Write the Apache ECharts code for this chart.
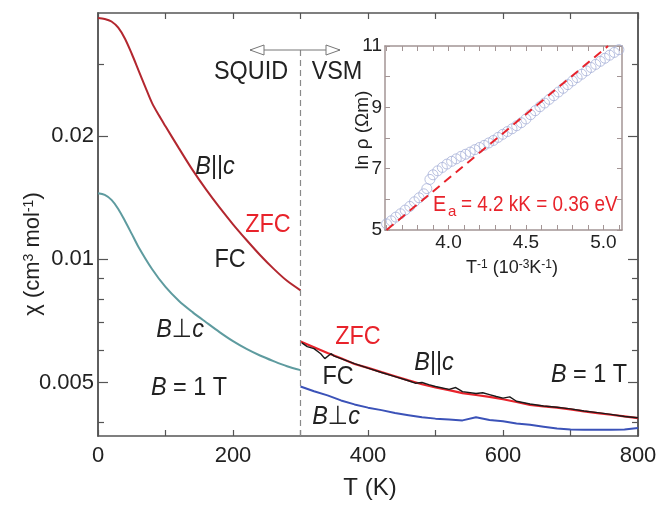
<!DOCTYPE html>
<html>
<head>
<meta charset="utf-8">
<script src="https://cdn.jsdelivr.net/npm/echarts@6.0.0/dist/echarts.min.js"></script>
<style>
    html, body { margin: 0; padding: 0; background: #fff; }
    #chart { width: 660px; height: 505px; }
</style>
</head>
<body>
<div id="chart"></div>
<script>
// --- SQUID range (0-300 K), chi in cm3/mol
var squidT = [0, 10, 20, 30, 40, 50, 60, 70, 80, 90, 100, 120, 140, 160, 180, 200, 220, 240, 260, 280, 300];
var chiParSquid = [0.03889, 0.03869, 0.03813, 0.03682, 0.03461, 0.03180, 0.02898, 0.02641, 0.02413, 0.02252, 0.02114,
    0.01867, 0.01654, 0.01482, 0.01339, 0.01218, 0.01115, 0.01025, 0.00949, 0.00886, 0.00840];
var squidTPerp = [0, 10, 20, 30, 40, 50, 60, 80, 100, 120, 140, 160, 180, 200, 220, 240, 260, 280, 300];
var chiPerpSquid = [0.01450, 0.01437, 0.01397, 0.01328, 0.01241, 0.01154, 0.01072, 0.00947, 0.00856, 0.00791,
    0.00743, 0.00702, 0.00664, 0.00631, 0.00604, 0.00582, 0.00564, 0.00548, 0.00536];

// --- VSM range (300-800 K)
var vsmT = [300, 320, 340, 360, 380, 400, 420, 440, 460, 480, 500, 520, 540, 560, 580, 600, 620, 640, 660, 680,
    700, 720, 740, 760, 780, 800];
var chiParZfc = [0.00630, 0.00610, 0.00590, 0.00573, 0.00555, 0.00543, 0.00530, 0.00518, 0.00506, 0.00495, 0.00486,
    0.00479, 0.00471, 0.00466, 0.00461, 0.00455, 0.00448, 0.00441, 0.00437, 0.00434, 0.00430, 0.00425, 0.00421,
    0.00417, 0.00413, 0.00409];
var fcT = [302, 310, 320, 330, 336, 345, 350, 360, 380, 400, 420, 440, 460, 470, 480, 490, 500, 520, 530, 540, 560,
    570, 580, 590, 600, 610, 620, 640, 660, 680, 700, 720, 740, 760, 780, 800];
var chiParFc = [0.00625, 0.00612, 0.00605, 0.00588, 0.00572, 0.00588, 0.00580, 0.00572, 0.00556, 0.00542, 0.00529,
    0.00517, 0.00505, 0.00498, 0.00500, 0.00494, 0.00489, 0.00481, 0.00486, 0.00475, 0.00470, 0.00472, 0.00467,
    0.00462, 0.00458, 0.00461, 0.00450, 0.00443, 0.00438, 0.00435, 0.00431, 0.00426, 0.00422, 0.00418, 0.00413,
    0.00410];
var chiPerpVsm = [0.00489, 0.00476, 0.00465, 0.00452, 0.00442, 0.00434, 0.00428, 0.00421, 0.00416, 0.00411, 0.00408,
    0.00406, 0.00404, 0.00411, 0.00405, 0.00402, 0.00397, 0.00394, 0.00390, 0.00386, 0.00384, 0.00383, 0.00383,
    0.00383, 0.00384, 0.00387];

// --- main axis ticks
var chiMajor = [0.005, 0.01, 0.02];
var chiMinor = [0.004, 0.006, 0.007, 0.008, 0.009, 0.03];

// --- inset: ln(rho) vs 1/T (1e-3 / K)
var invT = [3.60, 3.63, 3.66, 3.69, 3.72, 3.75, 3.78, 3.81, 3.84, 3.86, 3.88, 3.90, 3.93, 3.96, 3.99, 4.02, 4.05,
    4.08, 4.11, 4.14, 4.17, 4.20, 4.23, 4.26, 4.29, 4.32, 4.35, 4.38, 4.41, 4.44, 4.47, 4.50, 4.53, 4.56, 4.59,
    4.62, 4.65, 4.68, 4.71, 4.74, 4.77, 4.80, 4.83, 4.86, 4.89, 4.92, 4.95, 4.98, 5.01, 5.04, 5.07, 5.10];
var lnRho = [5.20, 5.30, 5.42, 5.53, 5.65, 5.77, 5.92, 6.05, 6.18, 6.35, 6.65, 6.80, 6.93, 7.04, 7.15, 7.24, 7.32,
    7.40, 7.47, 7.54, 7.62, 7.69, 7.76, 7.84, 7.92, 8.02, 8.12, 8.21, 8.30, 8.40, 8.50, 8.62, 8.76, 8.89, 9.02,
    9.14, 9.26, 9.38, 9.50, 9.62, 9.74, 9.86, 9.97, 10.08, 10.19, 10.30, 10.40, 10.50, 10.60, 10.70, 10.79, 10.88];
var fitX = [3.60, 5.03];
var fitY = [5.0, 11.0];
var invTTicks = [3.6, 3.7, 3.8, 3.9, 4.0, 4.1, 4.2, 4.3, 4.4, 4.5, 4.6, 4.7, 4.8, 4.9, 5.0, 5.1];
var invTLabels = [4.0, 4.5, 5.0];

var FONT = '"Liberation Sans", Arial, "DejaVu Sans", sans-serif';
var lg = function (v) { return Math.log10(v) };
var pairs = function (xs, ys, f) {
    return xs.map(function (x, i) { return [x, f ? f(ys[i]) : ys[i]] });
};

var frame = { color: '#555', width: 1.5 };
var insetFrame = { color: '#a39595', width: 1.5 };

var chiLabel = function (v) { return String(Number(Math.pow(10, v).toPrecision(1))) };

var mainX = function (pos) {
    return {
        type: 'value', gridIndex: 0, position: pos, min: 0, max: 800, interval: 100,
        axisLine: { onZero: false, lineStyle: frame },
        axisTick: { inside: true, length: 6, lineStyle: { color: '#555', width: 1.2 } },
        axisLabel: {
            show: pos === 'bottom', color: '#222', fontSize: 22, fontFamily: FONT, margin: 9,
            formatter: function (v) { return v % 200 === 0 ? String(v) : '' }
        },
        splitLine: { show: false }
    };
};
var mainY = function (pos, ticks, len, labels) {
    return {
        type: 'value', gridIndex: 0, position: pos, min: lg(0.0037), max: lg(0.04),
        axisLine: { onZero: false, lineStyle: frame },
        axisTick: { inside: true, length: len, customValues: ticks.map(lg), lineStyle: { color: '#555', width: 1.2 } },
        axisLabel: labels ? {
            customValues: chiMajor.map(lg), formatter: chiLabel,
            color: '#222', fontSize: 22, fontFamily: FONT, margin: 4
        } : { show: false },
        splitLine: { show: false }
    };
};
var insetX = function (pos) {
    return {
        type: 'value', gridIndex: 1, position: pos, min: 3.59, max: 5.12,
        axisLine: { onZero: false, lineStyle: insetFrame },
        axisTick: { inside: true, length: 5, customValues: invTTicks, lineStyle: { color: '#a39595' } },
        axisLabel: {
            show: pos === 'bottom', customValues: invTLabels, margin: 3,
            formatter: function (v) { return v.toFixed(1) },
            color: '#222', fontSize: 19, fontFamily: FONT
        },
        splitLine: { show: false }
    };
};
var insetY = function (pos) {
    return {
        type: 'value', gridIndex: 1, position: pos, min: 5, max: 11, interval: 1,
        axisLine: { onZero: false, lineStyle: insetFrame },
        axisTick: { inside: true, length: 5, lineStyle: { color: '#a39595' } },
        axisLabel: {
            show: pos === 'left', margin: 3, color: '#222', fontSize: 19, fontFamily: FONT,
            formatter: function (v) { return v % 2 === 1 ? String(v) : '' }
        },
        splitLine: { show: false }
    };
};

// text helper for annotations
var txt = function (x, y, text, size, color, opt) {
    opt = opt || {};
    return {
        type: 'text', x: x, y: y, rotation: opt.rot || 0, scaleX: opt.sx || 1, z: 100,
        style: {
            text: text, fill: color || '#222', fontSize: size, fontFamily: FONT,
            align: opt.align || 'center', verticalAlign: 'middle', rich: opt.rich
        }
    };
};
var richB = function (size) {
    return {
        i: { fontStyle: 'italic', fontSize: size, fontFamily: FONT, fill: '#222' },
        n: { fontSize: size, fontFamily: FONT, fill: '#222' }
    };
};
var supRich = function (size, sub) {
    return {
        a: { fontSize: size, fontFamily: FONT, fill: '#222', verticalAlign: 'bottom' },
        s: { fontSize: sub, fontFamily: FONT, fill: '#222', verticalAlign: 'top' }
    };
};

var S = 26, SX = 0.9;
var graphics = [
    { type: 'line', z: 100, shape: { x1: 250, y1: 50, x2: 340, y2: 50 }, style: { stroke: '#777', lineWidth: 1 } },
    { type: 'polygon', z: 101, shape: { points: [[250, 50], [264, 45], [264, 55]] }, style: { fill: '#fff', stroke: '#777', lineWidth: 1 } },
    { type: 'polygon', z: 101, shape: { points: [[340, 50], [326, 45], [326, 55]] }, style: { fill: '#fff', stroke: '#777', lineWidth: 1 } },
    txt(251, 72, 'SQUID', S, '#222', { sx: SX }),
    txt(337, 72, 'VSM', S, '#222', { sx: SX }),
    txt(215, 167, '{i|B}{n|||}{i|c}', S, '#222', { sx: SX, rich: richB(S) }),
    txt(268, 225, 'ZFC', S, '#e8232b', { sx: SX }),
    txt(230, 260, 'FC', S, '#222', { sx: SX }),
    txt(180, 330, '{i|B}{n|\u22a5}{i|c}', S, '#222', { sx: SX, rich: richB(S) }),
    txt(189, 388, '{i|B}{n| = 1 T}', S, '#222', { sx: SX, rich: richB(S) }),
    txt(358, 337, 'ZFC', S, '#e8232b', { sx: SX }),
    txt(338, 377, 'FC', S, '#222', { sx: SX }),
    txt(434, 363, '{i|B}{n|||}{i|c}', S, '#222', { sx: SX, rich: richB(S) }),
    txt(589, 375, '{i|B}{n| = 1 T}', S, '#222', { sx: SX, rich: richB(S) }),
    txt(336, 417, '{i|B}{n|\u22a5}{i|c}', S, '#222', { sx: SX, rich: richB(S) }),
    txt(370, 488, 'T (K)', 24, '#222'),
    txt(33, 254, '{a|\u03c7 (cm}{s|3}{a| mol}{s|-1}{a|)}', 22, '#222', { rot: Math.PI / 2, rich: supRich(22, 14) }),
    txt(363, 130, 'ln \u03c1 (\u03a9m)', 19, '#222', { rot: Math.PI / 2 }),
    txt(512, 268, '{a|T}{s|-1}{a| (10}{s|-3}{a|K}{s|-1}{a|)}', 18, '#222', { rich: supRich(18, 12) }),
    txt(433, 205, 'E', 22, '#e8232b', { align: 'left', sx: SX }),
    txt(448, 212, 'a', 15, '#e8232b', { align: 'left' }),
    txt(461, 205, '= 4.2 kK = 0.36 eV', 22, '#e8232b', { align: 'left', sx: 0.86 })
];

var chart = echarts.init(document.getElementById('chart'));
chart.setOption({
    animation: false,
    backgroundColor: '#fff',
    grid: [
        { left: 98, top: 13, width: 540, height: 423 },
        { left: 385, top: 46, width: 237, height: 184 }
    ],
    xAxis: [mainX('bottom'), mainX('top'), insetX('bottom'), insetX('top')],
    yAxis: [
        mainY('left', chiMajor, 10, true), mainY('left', chiMinor, 6, false),
        mainY('right', chiMajor, 10, false), mainY('right', chiMinor, 6, false),
        insetY('left'), insetY('right')
    ],
    series: [
        {
            name: 'B||c SQUID', type: 'line', xAxisIndex: 0, yAxisIndex: 0, smooth: 0.3,
            showSymbol: false, data: pairs(squidT, chiParSquid, lg), lineStyle: { color: '#b3272f', width: 2 },
            markLine: {
                silent: true, symbol: 'none', label: { show: false },
                lineStyle: { color: '#8a8a8a', type: [6, 4], width: 1.2 },
                data: [[{ coord: [300, lg(0.0037)] }, { coord: [300, lg(0.0325)] }]]
            }
        },
        {
            name: 'B perp c SQUID', type: 'line', xAxisIndex: 0, yAxisIndex: 0, smooth: 0.3,
            showSymbol: false, data: pairs(squidTPerp, chiPerpSquid, lg), lineStyle: { color: '#5e9b9f', width: 2 }
        },
        {
            name: 'ZFC', type: 'line', xAxisIndex: 0, yAxisIndex: 0, showSymbol: false,
            data: pairs(vsmT, chiParZfc, lg), lineStyle: { color: '#e8232b', width: 2.2 }
        },
        {
            name: 'FC', type: 'line', xAxisIndex: 0, yAxisIndex: 0, showSymbol: false,
            data: pairs(fcT, chiParFc, lg), lineStyle: { color: '#1a1a1a', width: 1.4 }
        },
        {
            name: 'B perp c VSM', type: 'line', xAxisIndex: 0, yAxisIndex: 0, showSymbol: false,
            data: pairs(vsmT, chiPerpVsm, lg), lineStyle: { color: '#3b52b8', width: 2 }
        },
        {
            name: 'ln rho', type: 'scatter', xAxisIndex: 2, yAxisIndex: 4, symbol: 'circle', symbolSize: 10,
            data: pairs(invT, lnRho),
            itemStyle: { color: 'rgba(0,0,0,0)', borderColor: '#a7b2d8', borderWidth: 1 }
        },
        {
            name: 'fit', type: 'line', xAxisIndex: 2, yAxisIndex: 4, showSymbol: false, z: 5,
            data: pairs(fitX, fitY), lineStyle: { color: '#e8232b', width: 2, type: [9, 6] }
        }
    ],
    graphic: graphics
});
</script>
</body>
</html>
